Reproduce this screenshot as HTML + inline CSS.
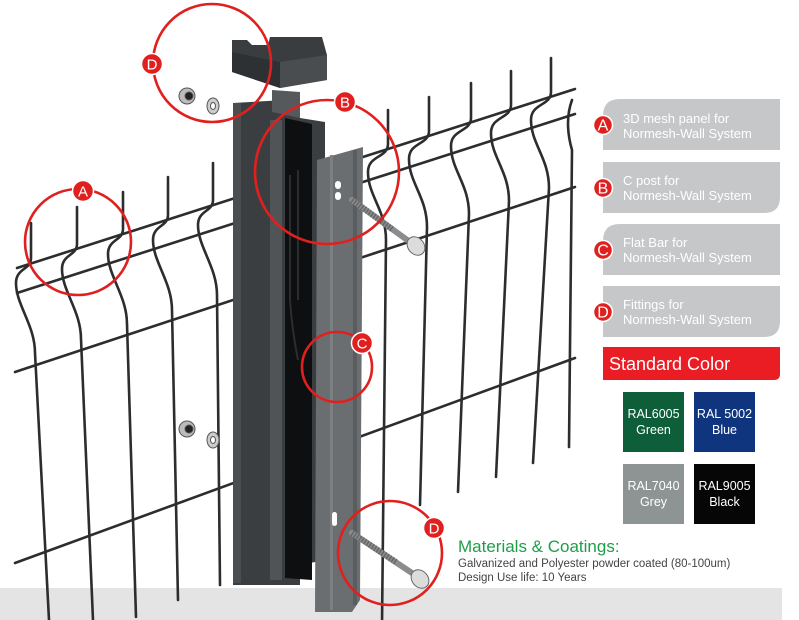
<!DOCTYPE html>
<html><head><meta charset="utf-8"><style>
html,body{margin:0;padding:0;background:#fff;}
svg{display:block;font-family:"Liberation Sans",sans-serif;}
</style></head><body>
<svg width="799" height="620" viewBox="0 0 799 620" xmlns="http://www.w3.org/2000/svg">
<rect x="0" y="0" width="799" height="620" fill="#fff"/>
<rect x="0" y="588" width="782" height="32" fill="#e4e4e4"/>

<!-- fence wires -->
<g stroke="#2b2d2f" stroke-width="2.6" fill="none" stroke-linecap="round">
  <line x1="17" y1="268" x2="575" y2="89"/>
  <line x1="17" y1="293" x2="575" y2="114"/>
  <line x1="15" y1="372" x2="575" y2="187"/>
  <line x1="15" y1="563" x2="575" y2="358"/>
  <!-- left verticals -->
  <path d="M31 223 L31 258 C31 270 16 268 16 283 C16 305 35 325 35 353 L49 620"/>
  <path d="M77 207 L77 244 C77 256 62 254 62 269 C62 291 81 311 81 339 L93 620"/>
  <path d="M123 192 L123 229 C123 241 108 239 108 254 C108 276 127 296 127 324 L136 617"/>
  <path d="M168 177 L168 215 C168 227 153 225 153 240 C153 262 172 282 172 310 L178 600"/>
  <path d="M213 163 L213 200 C213 212 198 210 198 225 C198 247 217 267 217 295 L220 585"/>
  <!-- right verticals -->
  <path d="M388 110 L388 144 C388 158 368 155 368 172 C368 196 386 210 386 240 L382 625"/>
  <path d="M429 97 L429 131 C429 145 409 142 409 159 C409 183 427 197 427 227 L420 505"/>
  <path d="M471 83 L471 118 C471 132 451 129 451 146 C451 170 469 184 469 214 L458 492"/>
  <path d="M511 71 L511 105 C511 119 491 116 491 133 C491 157 509 171 509 201 L496 477"/>
  <path d="M551 58 L551 92 C551 106 531 103 531 120 C531 144 549 158 549 188 L533 463"/>
  <path d="M572 100 Q564 122 572 150 L569 447"/>
</g>

<!-- C post -->
<polygon points="233,103 285,100 300,118 325,122 325,560 300,565 300,585 233,585" fill="#3b3e40"/>
<polygon points="285,118 312,124 312,580 285,578" fill="#0e0f10"/>
<polygon points="272,90 300,92 300,118 272,112" fill="#55595b"/>
<rect x="233" y="103" width="8" height="480" fill="#4a4e50"/>
<rect x="270" y="120" width="12" height="460" fill="#505456"/>
<g stroke="#2b2d2f" stroke-width="2" fill="none">
  <path d="M290 175 L290 300 Q292 330 298 360"/>
  <path d="M298 170 L298 300"/>
</g>
<!-- flat bar -->
<polygon points="317,160 363,147 360,600 352,612 315,612" fill="#6a6e70"/>
<rect x="330" y="155" width="3" height="455" fill="#7c8082"/>
<rect x="353" y="150" width="4" height="455" fill="#595d5f"/>
<rect x="335" y="181" width="6" height="8" rx="3" fill="#fff"/>
<rect x="335" y="192" width="6" height="8" rx="3" fill="#fff"/>
<rect x="332" y="512" width="5" height="14" rx="2.5" fill="#fff"/>

<!-- cap -->
<polygon points="232,40 247,40 252,45 268,45 270,37 322,37 327,55 327,80 280,88 232,72" fill="#3a3d3f"/>
<polygon points="232,52 280,62 280,88 232,72" fill="#2e3133"/>
<polygon points="280,62 327,55 327,80 280,88" fill="#4a4d50"/>

<!-- bolts -->
<g>
  <line x1="352" y1="200" x2="410" y2="242" stroke="#8a8c8e" stroke-width="6" stroke-linecap="round"/>
  <line x1="352" y1="200" x2="392" y2="229" stroke="#666" stroke-width="6" stroke-dasharray="1.5 1.5"/>
  <ellipse cx="416" cy="246" rx="8" ry="10" transform="rotate(-40 416 246)" fill="#dcdcdc" stroke="#666" stroke-width="1"/>
  <line x1="352" y1="533" x2="415" y2="575" stroke="#8a8c8e" stroke-width="6" stroke-linecap="round"/>
  <line x1="352" y1="533" x2="396" y2="562" stroke="#666" stroke-width="6" stroke-dasharray="1.5 1.5"/>
  <ellipse cx="420" cy="579" rx="8" ry="10" transform="rotate(-40 420 579)" fill="#dcdcdc" stroke="#666" stroke-width="1"/>
</g>
<!-- nuts & washers -->
<g stroke="#555" stroke-width="1">
  <circle cx="187" cy="96" r="8" fill="#bbb"/><circle cx="189" cy="96" r="4" fill="#222"/>
  <ellipse cx="213" cy="106" rx="6" ry="8" fill="#ccc"/><ellipse cx="213" cy="106" rx="2.5" ry="3.5" fill="#fff"/>
  <circle cx="187" cy="429" r="8" fill="#bbb"/><circle cx="189" cy="429" r="4" fill="#222"/>
  <ellipse cx="213" cy="440" rx="6" ry="8" fill="#ccc"/><ellipse cx="213" cy="440" rx="2.5" ry="3.5" fill="#fff"/>
</g>

<!-- red callout circles -->
<g fill="none" stroke="#e0201f" stroke-width="2.6">
  <circle cx="212" cy="63" r="59"/>
  <circle cx="327" cy="172" r="72"/>
  <circle cx="78" cy="242" r="53"/>
  <circle cx="337" cy="367" r="35"/>
  <circle cx="390" cy="553" r="52"/>
</g>
<g font-size="15" fill="#fff" text-anchor="middle">
  <circle cx="152" cy="64" r="10.5" fill="#e0201f" stroke="#fff" stroke-width="1.5"/><text x="152" y="69.5">D</text>
  <circle cx="345" cy="102" r="10.5" fill="#e0201f" stroke="#fff" stroke-width="1.5"/><text x="345" y="107.5">B</text>
  <circle cx="83" cy="191" r="10.5" fill="#e0201f" stroke="#fff" stroke-width="1.5"/><text x="83" y="196.5">A</text>
  <circle cx="362" cy="343" r="10.5" fill="#e0201f" stroke="#fff" stroke-width="1.5"/><text x="362" y="348.5">C</text>
  <circle cx="434" cy="528" r="10.5" fill="#e0201f" stroke="#fff" stroke-width="1.5"/><text x="434" y="533.5">D</text>
</g>

<!-- right legend -->
<g fill="#c6c7c8">
  <path d="M620 99 H780 V150 H603 V116 Q603 99 620 99 Z"/>
  <path d="M603 162 H780 V197 Q780 213 764 213 H603 Z"/>
  <path d="M620 224 H780 V275 H603 V241 Q603 224 620 224 Z"/>
  <path d="M603 286 H780 V321 Q780 337 764 337 H603 Z"/>
</g>
<g font-size="13" fill="#fff">
  <text x="623" y="123">3D mesh panel for</text><text x="623" y="138">Normesh-Wall System</text>
  <text x="623" y="185">C post for</text><text x="623" y="200">Normesh-Wall System</text>
  <text x="623" y="247">Flat Bar for</text><text x="623" y="262">Normesh-Wall System</text>
  <text x="623" y="309">Fittings for</text><text x="623" y="324">Normesh-Wall System</text>
</g>
<g font-size="16" fill="#fff" text-anchor="middle">
  <circle cx="603" cy="125" r="9.5" fill="#e0201f" stroke="#fff" stroke-width="1.5"/><text x="603" y="130.5">A</text>
  <circle cx="603" cy="188" r="9.5" fill="#e0201f" stroke="#fff" stroke-width="1.5"/><text x="603" y="193.5">B</text>
  <circle cx="603" cy="250" r="9.5" fill="#e0201f" stroke="#fff" stroke-width="1.5"/><text x="603" y="255.5">C</text>
  <circle cx="603" cy="312" r="9.5" fill="#e0201f" stroke="#fff" stroke-width="1.5"/><text x="603" y="317.5">D</text>
</g>
<path d="M603 347 H780 V374 Q780 380 774 380 H603 Z" fill="#ea1c24"/>
<text x="609" y="370" font-size="18" fill="#fff">Standard Color</text>

<rect x="623" y="392" width="61" height="60" fill="#0e5e3a"/>
<rect x="694" y="392" width="61" height="60" fill="#10357f"/>
<rect x="623" y="464" width="61" height="60" fill="#8e9394"/>
<rect x="694" y="464" width="61" height="60" fill="#060606"/>
<g font-size="12.5" fill="#fff" text-anchor="middle">
  <text x="653.5" y="418">RAL6005</text><text x="653.5" y="434">Green</text>
  <text x="724.5" y="418">RAL 5002</text><text x="724.5" y="434">Blue</text>
  <text x="653.5" y="490">RAL7040</text><text x="653.5" y="506">Grey</text>
  <text x="724.5" y="490">RAL9005</text><text x="724.5" y="506">Black</text>
</g>

<text x="458" y="552" font-size="17" fill="#1f9e4a">Materials &amp; Coatings:</text>
<text x="458" y="567" font-size="11.5" fill="#444">Galvanized and Polyester powder coated (80-100um)</text>
<text x="458" y="581" font-size="11.5" fill="#444">Design Use life: 10 Years</text>
</svg>
</body></html>
